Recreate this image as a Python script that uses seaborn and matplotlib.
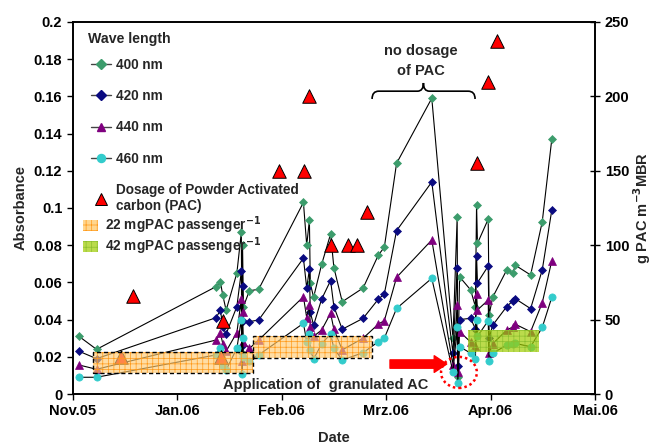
import numpy as np
import pandas as pd
import matplotlib
matplotlib.use("Agg")
import matplotlib.pyplot as plt
import seaborn as sns
from matplotlib.lines import Line2D
from matplotlib.patches import Rectangle, Ellipse, PathPatch
from matplotlib.path import Path

# days counted from the "Nov.05" tick; the axis ticks are 35 days apart
tick_days = [0, 35, 70, 105, 140, 175]
tick_labels = ['Nov.05', 'Jan.06', 'Feb.06', 'Mrz.06', 'Apr.06', 'Mai.06']

dates = [2.1, 8.0, 48.0, 49.5, 50.3, 51.4, 55.0, 56.5, 56.7, 56.9, 57.2, 59.2, 62.3,
         77.3, 78.4, 79.3, 79.6, 80.7, 83.4, 86.4, 87.5, 90.3, 97.3, 102.4, 104.4, 108.5, 120.3,
         127.4, 128.8, 129.0, 129.6, 133.3, 134.9, 135.3, 135.6, 139.2, 139.5, 140.7, 145.4,
         147.4, 148.3, 153.4, 157.3, 160.5]

abs_400 = [.031, .024, .0577, .060, .053, .045, .065, .087, .022, .080, .047, .0555, .0563,
           .103, .080, .0935, .0595, .052, .0697, .086, .068, .0496, .057, .0747, .0789, .124, .159,
           .030, .095, .0093, .063, .056, .047, .1016, .081, .094, .0425, .052, .0667,
           .065, .0692, .064, .0926, .137]
abs_420 = [.023, .019, .041, .045, .036, .0323, .047, .066, .026, .058, .039, .0389, .0398,
           .073, .057, .067, .044, .037, .051, .061, .047, .0348, .0407, .051, .0538, .0878, .114,
           .0219, .068, .015, .040, .0407, .035, .0742, .0598, .0688, .030, .037, .047,
           .050, .0512, .0459, .0667, .0989]
abs_440 = [.0156, .0133, .029, .0326, .027, .023, .033, .051, .018, .044, .028, .0245, .029,
           .0523, .041, .048, .036, .031, .0344, .0434, .0348, .0237, .030, .0376, .0394, .0627, .0828,
           .0156, .048, .012, .0335, .028, .026, .0538, .0452, .0505, .022, .027, .0344,
           .036, .0375, .0335, .049, .0717]
abs_460 = [.009, .009, .021, .025, .015, .013, .0245, .040, .011, .030, .020, .018, .021,
           .038, .028, .032, .0237, .0187, .027, .0323, .0245, .0183, .0222, .0281, .030, .046, .0622,
           .0118, .0358, .006, .0254, .022, .019, .0398, .031, .0394, .0179, .0219, .0263,
           .027, .0272, .0254, .0358, .052]

pac_dates = [16.2, 20.3, 49.6, 50.2, 69.1, 77.4, 79.3, 86.5, 92.3, 95.3, 98.5, 135.3, 139.2, 142.2]
pac_values = [25, 66, 25, 49, 150, 150, 200, 100, 100, 100, 122, 155, 210, 237]

# shaded periods: (start day, end day, low absorbance, high absorbance)
period_22 = [(6.9, 60.5, 0.0111, 0.0227), (60.5, 100.2, 0.0192, 0.0313)]
period_42 = [(132.3, 156.2, 0.0227, 0.0344)]

sns.set_theme(style='white')
plt.rcParams['font.family'] = ['Liberation Sans', 'DejaVu Sans']
plt.rcParams['font.weight'] = 'bold'
plt.rcParams['hatch.linewidth'] = 0.5

series = [
    ('400 nm', abs_400, 'D', '#3C9C6C', 4.2),
    ('420 nm', abs_420, 'D', '#0A0A80', 4.2),
    ('440 nm', abs_440, '^', '#7F007F', 5.2),
    ('460 nm', abs_460, 'o', '#33CCCC', 5.2),
]

fig = plt.figure(figsize=(6.53, 4.45), dpi=100)
ax = fig.add_axes([0.1113, 0.1146, 0.8000, 0.8360])

for name, vals, mk, col, ms in series:
    df = pd.DataFrame({'date': dates, 'value': vals})
    sns.lineplot(data=df, x='date', y='value', ax=ax, sort=False, estimator=None,
                 color='black', lw=0.8, marker=mk, markersize=ms,
                 markerfacecolor=col, markeredgecolor=col, markeredgewidth=0.5,
                 legend=False)

ax.set_xlim(0, 175)
ax.set_ylim(0, 0.2)
ax.set_xticks(tick_days)
ax.set_xticklabels(tick_labels)
ax.set_yticks(np.arange(0, 0.201, 0.02))
ax.set_yticklabels(['0'] + ['%g' % v for v in np.arange(0.02, 0.201, 0.02)])
ax.tick_params(axis='both', labelsize=10.5, length=4, width=1, direction='out',
               bottom=True, left=True, colors='black')
ax.set_xlabel('Date', fontsize=10.5, fontweight='bold', labelpad=9)
ax.set_ylabel('Absorbance', fontsize=10.5, fontweight='bold', labelpad=4)
for sp in ax.spines.values():
    sp.set_color('black')
    sp.set_linewidth(1.2)

ax2 = ax.twinx()
pdf = pd.DataFrame({'date': pac_dates, 'pac': pac_values})
sns.scatterplot(data=pdf, x='date', y='pac', ax=ax2, marker='^', s=95,
                color='#FF0000', edgecolor='black', linewidth=0.7, zorder=3, legend=False)
ax2.set_ylim(0, 250)
ax2.set_yticks(range(0, 251, 50))
ax2.tick_params(axis='y', labelsize=10.5, length=7, width=1, direction='inout', right=True,
                colors='black')
ax2.set_ylabel('g PAC m$^{\\mathbf{-3}}$MBR', fontsize=10.5, fontweight='bold', labelpad=1)
ax2.set_xlim(0, 175)
for sp in ax2.spines.values():
    sp.set_color('black')
    sp.set_linewidth(1.2)

# shaded dosage periods, drawn over the data in absorbance units
for x0, x1, y0, y1 in period_22:
    ax2.add_patch(Rectangle((x0, y0), x1 - x0, y1 - y0, transform=ax.transData,
                            facecolor=(1.0, 0.80, 0.45, 0.65), edgecolor='#FF9A1A',
                            hatch='+++', lw=0, zorder=5))
    ax2.add_patch(Rectangle((x0, y0), x1 - x0, y1 - y0, transform=ax.transData,
                            fill=False, edgecolor='black', ls=(0, (3, 2)), lw=1.0, zorder=6))
for x0, x1, y0, y1 in period_42:
    ax2.add_patch(Rectangle((x0, y0), x1 - x0, y1 - y0, transform=ax.transData,
                            facecolor=(0.62, 0.80, 0.0, 0.7), edgecolor='#8DBF2E',
                            hatch='+++', lw=0, zorder=5))

# annotations
ax2.text(50.2, 0.0050, 'Application of  granulated AC', transform=ax.transData,
         fontsize=10.5, fontweight='bold', va='center', ha='left', zorder=7)
ax2.annotate('', xy=(125.3, 0.0161), xytext=(106.3, 0.0161),
             xycoords=ax.transData, textcoords=ax.transData,
             arrowprops=dict(arrowstyle='simple,head_length=0.9,head_width=1.2,tail_width=0.6',
                             color='#FF0000', mutation_scale=10, shrinkA=0, shrinkB=0), zorder=7)
ax2.add_patch(Ellipse((129.4, 0.0116), 12.0, 0.0167, transform=ax.transData, fill=False,
                      edgecolor='#FF0000', ls=(0, (1, 1.2)), lw=1.8, zorder=7))
ax2.text(116.5, 0.1790, 'no dosage\nof PAC', transform=ax.transData, fontsize=10.5,
         fontweight='bold', ha='center', va='center', linespacing=1.5, zorder=7)
brace = Path([(100.3, 0.1586), (100.3, 0.1628), (102.5, 0.1628), (102.5, 0.1628),
              (115.5, 0.1628), (117.5, 0.1628), (117.5, 0.1672),
              (117.5, 0.1628), (119.5, 0.1628), (119.5, 0.1628),
              (132.5, 0.1628), (134.8, 0.1628), (134.8, 0.1586)],
             [Path.MOVETO, Path.CURVE3, Path.CURVE3, Path.LINETO,
              Path.LINETO, Path.CURVE3, Path.CURVE3,
              Path.CURVE3, Path.CURVE3, Path.LINETO,
              Path.LINETO, Path.CURVE3, Path.CURVE3])
ax2.add_patch(PathPatch(brace, transform=ax.transData, fill=False, lw=1.2,
                        edgecolor='black', zorder=7))

# legends
ax.text(0.030, 0.953, 'Wave length', transform=ax.transAxes, fontsize=10.2,
        fontweight='bold', va='center', ha='left')
handles = [Line2D([], [], color='#444444', lw=1, marker=mk, ms=ms + 0.6, mfc=col, mec=col)
           for name, vals, mk, col, ms in series]
handles.append(Line2D([], [], ls='none', marker='^', ms=9, mfc='#FF0000', mec='black', mew=0.7))
labels = [s[0] for s in series] + ['Dosage of Powder Activated\ncarbon (PAC)']
leg1 = ax2.legend(handles, labels, loc='upper left', bbox_to_anchor=(0.035, 0.904),
                  frameon=False, fontsize=9.8, handlelength=1.5, handletextpad=0.35,
                  labelspacing=1.27, borderaxespad=0, borderpad=0)
ax2.add_artist(leg1)
p22 = Rectangle((0, 0), 1, 1, facecolor=(1.0, 0.80, 0.45, 0.8), edgecolor='#FF9A1A', hatch='+++',
                lw=0)
p42 = Rectangle((0, 0), 1, 1, facecolor=(0.62, 0.80, 0.0, 0.7), edgecolor='#8DBF2E', hatch='+++',
                lw=0)
leg2 = ax2.legend([p22, p42], ['22 mgPAC passenger$^{\\mathbf{-1}}$',
                               '42 mgPAC passenger$^{\\mathbf{-1}}$'],
                  loc='upper left', bbox_to_anchor=(0.020, 0.482), frameon=False, fontsize=9.8,
                  handlelength=1.1, handleheight=0.85, handletextpad=0.5, labelspacing=-0.05,
                  borderaxespad=0, borderpad=0)

fig.savefig('out.png', dpi=100)
